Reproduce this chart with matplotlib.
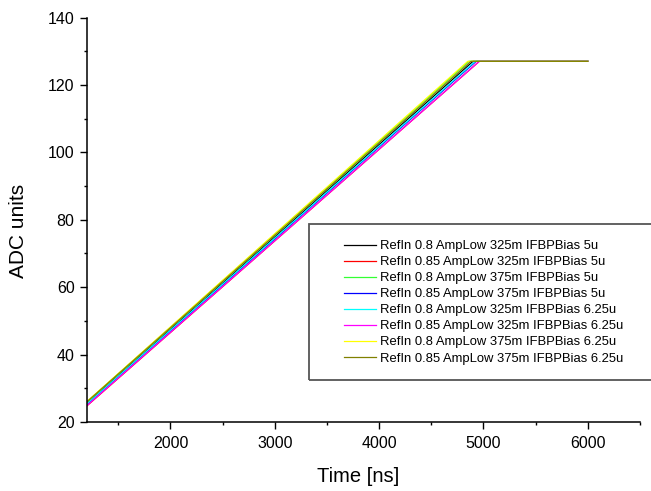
import matplotlib
matplotlib.use("Agg")
import matplotlib.pyplot as plt
from matplotlib.patches import Rectangle

plt.rcParams['font.family'] = ['Liberation Sans', 'DejaVu Sans']

labels = [
    "RefIn 0.8 AmpLow 325m IFBPBias 5u",
    "RefIn 0.85 AmpLow 325m IFBPBias 5u",
    "RefIn 0.8 AmpLow 375m IFBPBias 5u",
    "RefIn 0.85 AmpLow 375m IFBPBias 5u",
    "RefIn 0.8 AmpLow 325m IFBPBias 6.25u",
    "RefIn 0.85 AmpLow 325m IFBPBias 6.25u",
    "RefIn 0.8 AmpLow 375m IFBPBias 6.25u",
    "RefIn 0.85 AmpLow 375m IFBPBias 6.25u",
]
colors = ["#000000", "#FF0000", "#33FF33", "#0000FF",
          "#00FFFF", "#FF00FF", "#FFFF00", "#808000"]

# key points for each series: time [ns] and ADC value
t_start = 1200
t_end = 6000
y_plateau = 127
y_start = [25.5, 24.8, 26.0, 25.2, 25.4, 24.9, 26.1, 26.0]
t_knee = [4900, 4960, 4860, 4930, 4920, 4960, 4850, 4880]

W, H = 651, 491
fig = plt.figure(figsize=(W / 100, H / 100), dpi=100)
ax = fig.add_axes([87 / W, 1 - 422 / H, (640 - 87) / W, (422 - 17.5) / H])

lines = []
for lab, c, ys, tk in zip(labels, colors, y_start, t_knee):
    ln, = ax.plot([t_start, tk, t_end], [ys, y_plateau, y_plateau],
                  color=c, lw=0.9, label=lab)
    lines.append(ln)

ax.set_xlim(1200, 6500)
ax.set_ylim(20, 140)
ax.set_xticks([2000, 3000, 4000, 5000, 6000])
ax.set_xticks([1500, 2500, 3500, 4500, 5500, 6500], minor=True)
ax.set_yticks([20, 40, 60, 80, 100, 120, 140])
ax.set_yticks([30, 50, 70, 90, 110, 130], minor=True)

for s in ['top', 'right']:
    ax.spines[s].set_visible(False)
for s in ['left', 'bottom']:
    ax.spines[s].set_linewidth(1.1)
ax.tick_params(which='major', direction='out', length=5, width=1.0, labelsize=11.5)
ax.tick_params(axis='x', which='major', pad=5)
ax.tick_params(axis='y', which='major', pad=4)
ax.tick_params(which='minor', direction='out', length=2.5, width=1.0)

ax.set_xlabel("Time [ns]", fontsize=14.5)
ax.set_ylabel("ADC units", fontsize=15)
ax.xaxis.set_label_coords((358 - 87) / 553, -(467 - 422) / 404.5)
ax.yaxis.set_label_coords(-(87 - 28) / 553, 1 - (231 - 17.5) / 404.5)

# legend frame (extends past right edge of figure)
rect = Rectangle((309 / W, 1 - 380 / H), (700 - 309) / W, (380 - 224) / H,
                 transform=fig.transFigure, fill=False, edgecolor='#555555',
                 lw=1.3, clip_on=False)
fig.patches.append(rect)

leg = fig.legend(handles=lines, loc='upper left',
                 bbox_to_anchor=(344 / W, 1 - 240 / H),
                 frameon=False, fontsize=9.4, handlelength=2.45,
                 handletextpad=0.3, labelspacing=0.3, borderpad=0,
                 borderaxespad=0)

fig.savefig("out.png", dpi=100)
